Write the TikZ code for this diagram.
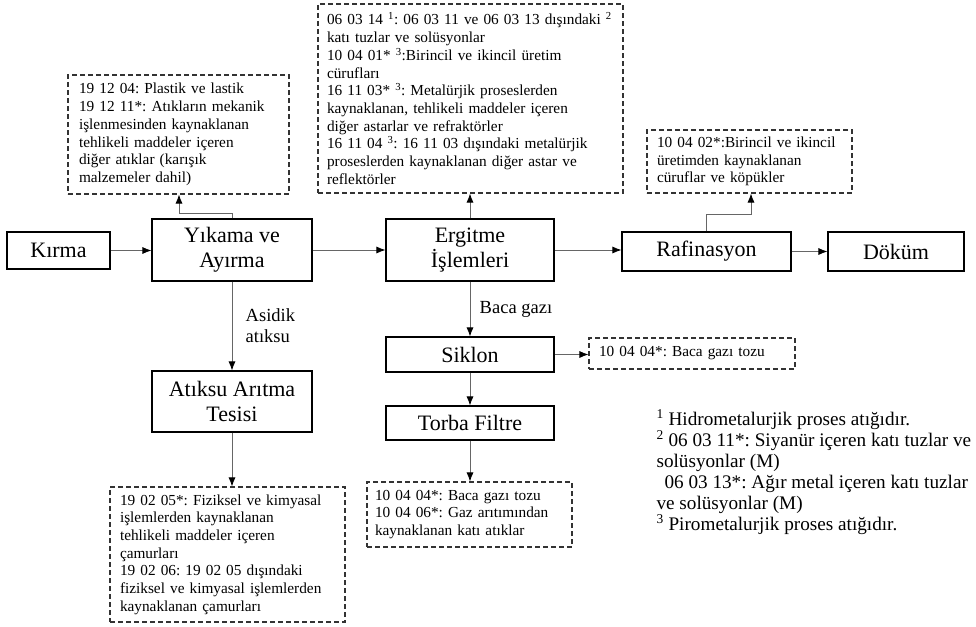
\documentclass[tikz,border=0pt]{standalone}
\usepackage{fontspec}
\setmainfont{Liberation Serif}
\usetikzlibrary{arrows.meta}
\frenchspacing

\tikzset{
  proc/.style={draw, line width=1.1pt, align=center, inner sep=0pt, font=\fontsize{22}{25}\selectfont},
  waste/.style={draw=black!80, line width=1.1pt, dash pattern=on 5pt off 3pt, align=left, inner xsep=10pt, inner ysep=0pt, font=\fontsize{15.3}{17.7}\selectfont},
  flow/.style={draw=black!60, line width=0.8pt, -{Latex[length=9pt,width=7pt,color=black]}},
  lbl/.style={font=\fontsize{18.5}{21}\selectfont, align=left}
}

\begin{document}
\begin{tikzpicture}[x=1pt,y=-1pt]
\useasboundingbox (0,0) rectangle (976,626);

\node[proc, minimum width=103pt, minimum height=37pt] (kirma) at (58.5,250.5) {Kırma};
\node[proc, minimum width=160pt, minimum height=62pt] (yikama) at (232,250) {Yıkama ve\\Ayırma};
\node[proc, minimum width=168pt, minimum height=62pt] (ergitme) at (470,250) {Ergitme\\İşlemleri};
\node[proc, minimum width=169pt, minimum height=39pt] (rafinasyon) at (706.5,251.5) {Rafinasyon};
\node[proc, minimum width=136pt, minimum height=39pt] (dokum) at (896,251.5) {Döküm};
\node[proc, minimum width=168pt, minimum height=35pt] (siklon) at (470,354.5) {Siklon};
\node[proc, minimum width=168pt, minimum height=34pt] (torba) at (470,423) {Torba Filtre};
\node[proc, minimum width=160pt, minimum height=61pt] (aritma) at (232,401.5) {Atıksu Arıtma\\Tesisi};

\node[waste, text width=199pt, inner xsep=11pt, minimum height=119pt] (yikamaW) at (178.5,134.5) {19 12 04: Plastik ve lastik\\19 12 11*: Atıkların mekanik\\işlenmesinden kaynaklanan\\tehlikeli maddeler içeren\\diğer atıklar (karışık\\malzemeler dahil)};
\node[waste, text width=287pt, inner xsep=9pt, minimum height=189pt] (ergitmeW) at (470.5,98.5) {06 03 14 \textsuperscript{1}: 06 03 11 ve 06 03 13 dışındaki \textsuperscript{2}\\katı tuzlar ve solüsyonlar\\10 04 01* \textsuperscript{3}:Birincil ve ikincil üretim\\cürufları\\16 11 03* \textsuperscript{3}: Metalürjik proseslerden\\kaynaklanan, tehlikeli maddeler içeren\\diğer astarlar ve refraktörler\\16 11 04 \textsuperscript{3}: 16 11 03 dışındaki metalürjik\\proseslerden kaynaklanan diğer astar ve\\reflektörler};
\node[waste, text width=185pt, minimum height=63pt] (rafinasyonW) at (749.5,161.5) {10 04 02*:Birincil ve ikincil\\üretimden kaynaklanan\\cüruflar ve köpükler};
\node[waste, text width=186pt, minimum height=31pt] (siklonW) at (692,353.5) {10 04 04*: Baca gazı tozu};
\node[waste, text width=189pt, inner xsep=8pt, minimum height=65pt] (torbaW) at (469.5,514.5) {10 04 04*: Baca gazı tozu\\10 04 06*: Gaz arıtımından\\kaynaklanan katı atıklar};
\node[waste, text width=215pt, minimum height=135pt] (aritmaW) at (227.5,554.5) {19 02 05*: Fiziksel ve kimyasal\\işlemlerden kaynaklanan\\tehlikeli maddeler içeren\\çamurları\\19 02 06: 19 02 05 dışındaki\\fiziksel ve kimyasal işlemlerden\\kaynaklanan çamurları};

\node[lbl, font=\fontsize{19.2}{21}\selectfont, anchor=north west] (notes) at (653,406) {\textsuperscript{1} Hidrometalurjik proses atığıdır.\\\textsuperscript{2} 06 03 11*: Siyanür içeren katı tuzlar ve\\solüsyonlar (M)\\\hspace*{8pt}06 03 13*: Ağır metal içeren katı tuzlar\\ve solüsyonlar (M)\\\textsuperscript{3} Pirometalurjik proses atığıdır.};

\coordinate (yikamaK) at (179,213);
\coordinate (rafinasyonK) at (751,214);

\draw[flow] (kirma.east) -- (kirma.east -| yikama.west);
\draw[flow] (yikama) -- (ergitme);
\draw[flow] (ergitme.east) -- (ergitme.east -| rafinasyon.west);
\draw[flow] (rafinasyon) -- (dokum);
\draw[flow] (yikama) -- (aritma) node[lbl, midway, right=10pt] {Asidik\\atıksu};
\draw[flow] (aritma) -- (aritma |- aritmaW.north);
\draw[flow] (ergitme) -- (siklon) node[lbl, midway, right=6pt] {Baca gazı};
\draw[flow] (siklon) -- (torba);
\draw[flow] (torba) -- (torba |- torbaW.north);
\draw[flow] (siklon.east) -- (siklon.east -| siklonW.west);
\draw[flow] (ergitme) -- (ergitme |- ergitmeW.south);
\draw[flow] (yikama.north) |- (yikamaK) -- (yikamaK |- yikamaW.south);
\draw[flow] (rafinasyon.north) |- (rafinasyonK) -- (rafinasyonK |- rafinasyonW.south);
\end{tikzpicture}
\end{document}
